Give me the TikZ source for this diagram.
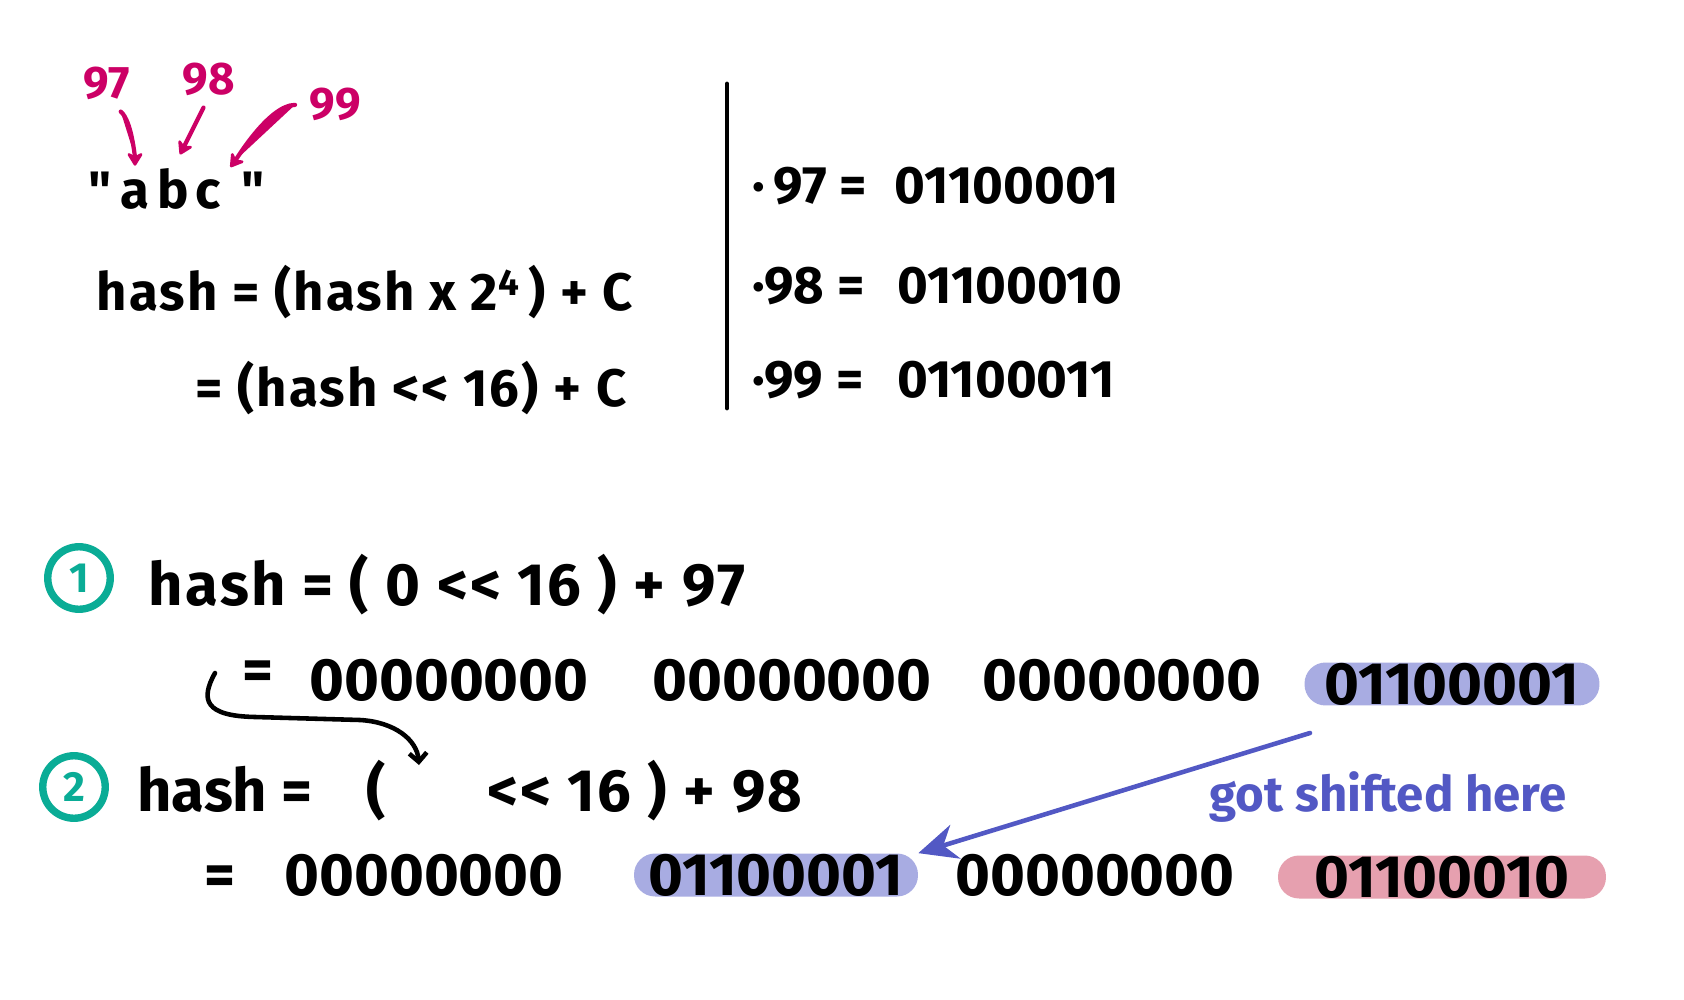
\documentclass[tikz,border=0pt]{standalone}
\usepackage{fontspec}
\newfontfamily\handfont{Fira Sans}
\usetikzlibrary{arrows.meta,positioning}
\definecolor{codepink}{RGB}{204,0,102}
\definecolor{stepteal}{RGB}{10,172,150}
\definecolor{shiftblue}{RGB}{82,88,196}
\definecolor{hlblue}{RGB}{168,172,226}
\definecolor{hlpink}{RGB}{230,160,175}
\newcommand\handsize[1]{\handfont\bfseries\fontsize{#1}{#1}\selectfont}
\newcommand\handwide[1]{\handsize{#1}\addfontfeature{LetterSpace=4}}
\newcommand\shiftop{<\kern1pt<}

\begin{document}
\begin{tikzpicture}[x=0.02cm,y=-0.02cm,>=Stealth,
 txt/.style={inner sep=0pt,anchor=base,font=\handsize{30}},
 bigtxt/.style={txt,font=\handsize{34}},
 formula/.style={txt,font=\handwide{30}},
 bigformula/.style={txt,font=\handwide{34}},
 valtxt/.style={txt,text=codepink,font=\handsize{26}},
 pinkarrow/.style={-{Stealth[length=9pt,width=11pt,round]},draw=codepink,fill=codepink,line width=2.4pt,line cap=round},
 stepmark/.style={circle,draw=stepteal,line width=4.2pt,text=stepteal,minimum size=1.25cm,inner sep=0pt,font=\handsize{24}},
 hlbox/.style={bigtxt,anchor=center,rounded corners=0.42cm,minimum height=0.86cm}]
\fill[white] (0,0) rectangle (1684,1000);
\useasboundingbox (0,0) rectangle (1684,1000);

% ascii codes of the letters
\node[valtxt] (c97) at (107,99) {97};
\node[valtxt] (c98) at (209,95) {98};
\node[valtxt] (c99) at (335,120) {99};
\node[txt] (qopen) at (100,209) {"};
\node[txt] (la) at (135,209) {a};
\node[txt] (lb) at (173,209) {b};
\node[txt] (lc) at (208,209) {c};
\node[txt] (qclose) at (253,209) {"};
\draw[pinkarrow,shorten <=10pt,shorten >=8pt] (c97.south) .. controls +(25,20) and +(0,-20) .. (la.north);
\draw[pinkarrow,shorten <=7pt,shorten >=9pt] (c98.south) -- (lb.north);
\draw[pinkarrow,shorten <=8pt,shorten >=9pt] (c99.west) .. controls +(-40,0) and +(15,-20) .. (lc.north east);

\node[formula] (ruleA) at (365,311) {hash = (hash x 2\textsuperscript{4}\,) + C};
\node[formula] (ruleB) at (411,406) {= (hash \shiftop{} 16) + C};

\draw[line width=2.8pt,line cap=round] (727,84) -- (727,408);

% binary of each code
\node[txt,anchor=base west] (k97) at (752,204) {·\,97 =};
\node[txt] (b97) at (1007,204) {01100001};
\node[txt,anchor=base west] (k98) at (752,303) {·98 =};
\node[txt] (b98) at (1010,303) {01100010};
\node[txt,anchor=base west] (k99) at (752,397) {·99 =};
\node[txt] (b99) at (1006,397) {01100011};

% step 1
\node[stepmark] (one) at (79,578) {1};
\node[bigformula] (hashA) at (447,605) {hash = ( 0 \shiftop{} 16 ) + 97};
\node[bigtxt] (eqA) at (258,690) {=};
\node[bigtxt] (byteA1) at (449,700) {00000000};
\node[bigtxt] (byteA2) at (792,700) {00000000};
\node[bigtxt] (byteA3) at (1122,700) {00000000};
\node[hlbox,fill=hlblue,minimum width=5.9cm] (byteA4) at (1452,684) {01100001};

% step 2
\node[stepmark] (two) at (74,787) {2};
\node[bigtxt] (hashB) at (225,811) {hash =};
\node[bigtxt] (parenB) at (376,811) {(};
\node[bigformula] (restB) at (645,811) {\shiftop{} 16 ) + 98};
\node[bigtxt] (eqB) at (220,895) {=};
\node[bigtxt] (byteB1) at (424,895) {00000000};
\node[hlbox,fill=hlblue,minimum width=5.68cm] (byteB2) at (776,875) {01100001};
\node[bigtxt] (byteB3) at (1095,895) {00000000};
\node[hlbox,fill=hlpink,minimum width=6.56cm] (byteB4) at (1442,877) {01100010};
\node[txt,text=shiftblue,font=\handsize{28}] (note) at (1388,811) {got shifted here};

\coordinate (carry) at (215,673);
\coordinate (slot) at (419,765);
\draw[line width=2.6pt,line cap=round,-{Straight Barb[length=5pt,width=10pt]}] (carry) .. controls (200,700) and (205,716) .. (255,717) -- (360,720) .. controls (395,722) and (417,740) .. (slot);

\coordinate (shiftfrom) at (1310,733);
\draw[color=shiftblue,line width=2.6pt,line cap=round,-{Stealth[length=22pt,width=20pt]}] (shiftfrom) -- (byteB2.north east);
\end{tikzpicture}
\end{document}
